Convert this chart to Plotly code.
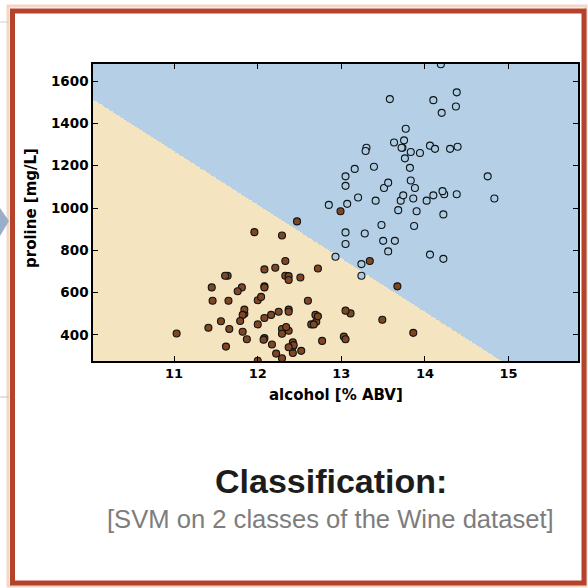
import numpy as np
import plotly.graph_objects as go

# ---- data (Wine dataset, classes 0 and 1: alcohol [% ABV], proline [mg/L]) ----
class0_alcohol = [14.23, 13.20, 13.16, 14.37, 13.24, 14.20, 14.39, 14.06, 14.83, 13.86,
                  14.10, 14.12, 13.75, 14.75, 14.38, 13.63, 14.30, 13.83, 14.19, 13.64,
                  14.06, 12.93, 13.71, 12.85, 13.50, 13.05, 13.39, 13.30, 13.87, 14.02,
                  13.73, 13.58, 13.68, 13.76, 13.51, 13.48, 13.28, 13.05, 13.07, 14.22,
                  13.56, 13.41, 13.88, 13.24, 13.05, 14.21, 14.38, 13.90, 14.10, 13.94,
                  13.05, 13.83, 13.82, 13.77, 13.74, 13.56, 14.22, 13.29, 13.72]
class0_proline = [1065, 1050, 1185, 1480, 735, 1450, 1290, 1295, 1045, 1045,
                  1510, 1280, 1320, 1150, 1547, 1310, 1280, 1130, 1680, 845,
                  780, 770, 1035, 1015, 845, 830, 1195, 1285, 915, 1035,
                  1285, 1515, 990, 1235, 1095, 920, 880, 1105, 1020, 760,
                  795, 1035, 1095, 680, 885, 1080, 1065, 985, 1060, 1260,
                  1150, 1265, 1190, 1375, 1060, 1120, 970, 1270, 1285]
class1_alcohol = [12.37, 12.33, 12.64, 13.67, 12.37, 12.17, 12.37, 13.11, 12.37, 13.34,
                  12.21, 12.29, 13.86, 13.49, 12.99, 11.96, 11.66, 13.03, 11.84, 12.33,
                  12.70, 12.00, 12.72, 12.08, 13.05, 11.84, 12.67, 12.16, 11.65, 11.64,
                  12.08, 12.08, 12.00, 12.69, 12.29, 11.62, 12.47, 11.81, 12.29, 12.37,
                  12.29, 12.08, 12.60, 12.34, 11.82, 12.51, 12.42, 12.25, 12.72, 12.22,
                  11.61, 11.46, 12.52, 11.76, 11.41, 12.08, 11.03, 11.82, 12.42, 12.77,
                  12.00, 11.45, 11.56, 12.42, 13.05, 11.87, 12.07, 12.43, 11.79, 12.37,
                  12.04]
class1_proline = [520, 680, 450, 630, 420, 355, 678, 502, 510, 750,
                  718, 870, 410, 472, 985, 886, 428, 392, 500, 750,
                  463, 278, 714, 630, 515, 520, 450, 495, 562, 680,
                  625, 480, 450, 495, 290, 345, 937, 625, 428, 660,
                  406, 710, 562, 438, 415, 672, 315, 510, 488, 312,
                  680, 562, 325, 607, 434, 385, 407, 495, 345, 372,
                  564, 625, 465, 365, 380, 380, 378, 352, 466, 342,
                  580]

# linear SVM decision function: f = w0*alcohol + w1*proline + b
svm_coef = [253.0, 1.0]
svm_intercept = -4052.0

x_ticks = [11, 12, 13, 14, 15]
y_ticks = [400, 600, 800, 1000, 1200, 1400, 1600]

title_text = "Classification:"
subtitle_text = "[SVM on 2 classes of the Wine dataset]"
x_label = "alcohol [% ABV]"
y_label = "proline [mg/L]"

# ---- styling ----
BLUE_BG = "#b5d0e6"
TAN_BG = "#f5e4c0"
C0_FILL = "#a9cde4"
C1_FILL = "#7e4724"
FRAME = "#b5432c"

all_x = np.array(class0_alcohol + class1_alcohol)
all_y = np.array(class0_proline + class1_proline)
x_min, x_max = all_x.min() - 1, all_x.max() + 1
y_min, y_max = all_y.min() - 1, all_y.max() + 1

gx = np.arange(x_min, x_max + 0.01, 0.01)
gy = np.arange(y_min, y_max + 3, 3.0)
XX, YY = np.meshgrid(gx, gy)
Z = (svm_coef[0] * XX + svm_coef[1] * YY + svm_intercept > 0).astype(int)

W, H = 588, 588
L, R, T, B = 93, 10, 64, 227
PW, PH = W - L - R, H - T - B


def px_x(p):
    return (p - L) / PW


def px_y(p):
    return (T + PH - p) / PH


fig = go.Figure()
fig.add_trace(go.Heatmap(
    x=gx, y=gy, z=Z, zmin=0, zmax=1, showscale=False, hoverinfo="skip",
    colorscale=[[0, TAN_BG], [0.5, TAN_BG], [0.5, BLUE_BG], [1, BLUE_BG]],
))
fig.add_trace(go.Scatter(
    x=class0_alcohol, y=class0_proline, mode="markers", showlegend=False,
    marker=dict(size=7, color=C0_FILL, line=dict(color="#111111", width=1.1)),
))
fig.add_trace(go.Scatter(
    x=class1_alcohol, y=class1_proline, mode="markers", showlegend=False,
    marker=dict(size=7, color=C1_FILL, line=dict(color="#111111", width=1.1)),
))

xtick_font = dict(family="DejaVu Sans", size=13, color="black", weight="bold")
ytick_font = dict(family="DejaVu Sans", size=13.5, color="black", weight="bold")
common = dict(ticks="inside", ticklen=5, tickcolor="black", tickwidth=1.2,
              showline=True, linecolor="black", linewidth=1.5, mirror="ticks",
              showgrid=False, zeroline=False, automargin=False)
fig.update_xaxes(range=[x_min, x_max], tickvals=x_ticks, tickfont=xtick_font, **common)
fig.update_yaxes(range=[y_min, y_max], tickvals=y_ticks, tickfont=ytick_font, **common)

label_font = dict(family="DejaVu Sans", size=15, color="black", weight="bold")
annotations = [
    dict(text=x_label, x=px_x(336), y=px_y(395), xref="paper", yref="paper",
         showarrow=False, xanchor="center", yanchor="middle", font=label_font),
    dict(text=y_label, x=px_x(31), y=px_y(208), xref="paper", yref="paper",
         showarrow=False, xanchor="center", yanchor="middle", textangle=-90,
         font=label_font),
    dict(text="<b>" + title_text + "</b>", x=px_x(331), y=px_y(481), xref="paper",
         yref="paper", showarrow=False, xanchor="center", yanchor="middle",
         font=dict(family="Liberation Sans", size=34, color="#1c1c1c")),
    dict(text=subtitle_text, x=px_x(330), y=px_y(519), xref="paper", yref="paper",
         showarrow=False, xanchor="center", yanchor="middle",
         font=dict(family="Liberation Sans", size=25.6, color="#7d7d7d")),
]

shapes = [
    # soft glow around the frame
    dict(type="rect", xref="paper", yref="paper", x0=px_x(8), x1=px_x(586),
         y0=px_y(586), y1=px_y(6), line=dict(color="#f3d6c6", width=3), layer="below"),
    # red frame
    dict(type="rect", xref="paper", yref="paper", x0=px_x(12.5), x1=px_x(584),
         y0=px_y(583), y1=px_y(11), line=dict(color=FRAME, width=5), layer="above"),
    # page bits outside the frame
    dict(type="line", xref="paper", yref="paper", x0=px_x(0), x1=px_x(9),
         y0=px_y(22), y1=px_y(22), line=dict(color="#d0d0d0", width=1)),
    dict(type="line", xref="paper", yref="paper", x0=px_x(0), x1=px_x(9),
         y0=px_y(397), y1=px_y(397), line=dict(color="#c4c4c4", width=1)),
    dict(type="path", xref="paper", yref="paper",
         path="M {} {} L {} {} L {} {} Z".format(px_x(0), px_y(208), px_x(9), px_y(221),
                                                  px_x(0), px_y(236)),
         fillcolor="#98aecb", line=dict(width=0)),
]

fig.update_layout(
    width=W, height=H, margin=dict(l=L, r=R, t=T, b=B, autoexpand=False),
    paper_bgcolor="white", plot_bgcolor="white", showlegend=False,
    annotations=annotations, shapes=shapes, hovermode=False,
)

fig.write_html("out.html")
